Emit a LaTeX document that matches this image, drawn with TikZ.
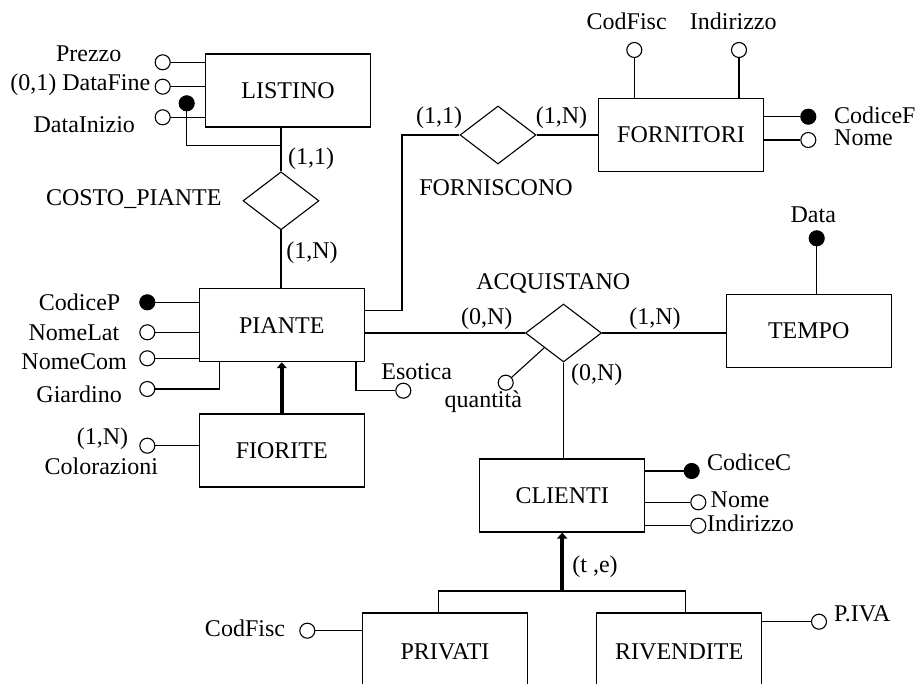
\documentclass[tikz,border=0pt]{standalone}
\usepackage{fontspec}
\setmainfont{Liberation Serif}
\usetikzlibrary{shapes.geometric,arrows.meta}
\begin{document}
\begin{tikzpicture}[x=1pt,y=-1pt,
  every node/.style={font=\fontsize{24}{26}\selectfont},
  ent/.style={draw, rectangle, minimum width=165pt, minimum height=73pt, inner sep=0pt, line width=1.1pt},
  rel/.style={draw, diamond, minimum width=76pt, minimum height=58pt, inner sep=0pt, line width=1.1pt},
  att/.style={draw, circle, minimum size=15pt, inner sep=0pt, line width=1.1pt, fill=white},
  keyatt/.style={att, fill=black},
  lab/.style={inner sep=0pt},
  conn/.style={line width=1.1pt},
  isarrow/.style={line width=3.5pt, -{Triangle[length=6pt,width=10pt]}}
]
\useasboundingbox (0,0) rectangle (918,684);
\clip (0,0) rectangle (918,684);

% entities
\node[ent] (listino) at (288,90.5) {LISTINO};
\node[ent] (piante) at (281.8,325.2) {PIANTE};
\node[ent] (fiorite) at (281.8,450.5) {FIORITE};
\node[ent] (fornitori) at (681,135) {FORNITORI};
\node[ent] (tempo) at (808.7,330.8) {TEMPO};
\node[ent] (clienti) at (562.2,495.5) {CLIENTI};
\node[ent, minimum height=78pt] (privati) at (445,652) {PRIVATI};
\node[ent, minimum height=78pt] (rivendite) at (679.2,652) {RIVENDITE};

% relationships
\node[rel] (costo) at (281,200.8) {};
\node[rel] (fornisc) at (498,135) {};
\node[rel] (acq) at (563.5,333) {};

% relationship labels and cardinalities
\node[lab] (lcosto) at (133.8,199) {COSTO\_PIANTE};
\node[lab] (c11a) at (311,159) {(1,1)};
\node[lab] (c1na) at (312,253) {(1,N)};
\node[lab] (lfornisc) at (496,188) {FORNISCONO};
\node[lab] (c11b) at (439,118) {(1,1)};
\node[lab] (c1nb) at (561.5,118) {(1,N)};
\node[lab] (lacq) at (553.3,284) {ACQUISTANO};
\node[lab] (c0na) at (486.7,318.3) {(0,N)};
\node[lab] (c1nc) at (655,318.3) {(1,N)};
\node[lab] (c0nb) at (596.7,375) {(0,N)};
\node[lab] (lte) at (595,566.7) {(t ,e)};

% relationship connectors
\draw[conn] (costo.north) -- (costo.north |- listino.south);
\draw[conn] (costo.south) -- (costo.south |- piante.north);
\coordinate (fk) at (402,310.7);
\draw[conn] (fornisc.west) -| (fk) -- (fk -| piante.east);
\draw[conn] (fornisc.east) -- (fornisc.east -| fornitori.west);
\draw[conn] (acq.west) -- (acq.west -| piante.east);
\draw[conn] (acq.east) -- (acq.east -| tempo.west);
\draw[conn] (acq.south) -- (acq.south |- clienti.north);

% LISTINO attributes
\node[att] (aprezzo) at (162.7,62.3) {};
\node[att] (adatafine) at (162.7,86.7) {};
\node[att] (adatainizio) at (162.7,117.3) {};
\node[keyatt] (klistino) at (186.7,103.3) {};
\draw[conn] (aprezzo) -- (aprezzo -| listino.west);
\draw[conn] (adatafine) -- (adatafine -| listino.west);
\draw[conn] (adatainizio) -- (adatainizio -| listino.west);
\coordinate (lk) at (281,145.7);
\draw[conn] (klistino) |- (lk);
\node[lab] (lprezzo) at (88.7,53.3) {Prezzo};
\node[lab, anchor=east] (ldatafine) at (150.5,85) {(0,1) DataFine};
\node[lab] (ldatainizio) at (84.3,125) {DataInizio};

% PIANTE attributes
\node[keyatt] (kpiante) at (147.3,302.3) {};
\node[att] (anomelat) at (147.3,332.3) {};
\node[att] (anomecom) at (147.3,358.3) {};
\node[att] (agiardino) at (147.3,389) {};
\node[att] (aesotica) at (403.3,390.7) {};
\draw[conn] (kpiante) -- (kpiante -| piante.west);
\draw[conn] (anomelat) -- (anomelat -| piante.west);
\draw[conn] (anomecom) -- (anomecom -| piante.west);
\draw[conn] (agiardino) -| ([xshift=-62.5pt]piante.south);
\draw[conn] (aesotica) -| ([xshift=74.2pt]piante.south);
\node[lab, anchor=east] (lcodicep) at (120.5,302) {CodiceP};
\node[lab, anchor=east] (lnomelat) at (119.5,332.3) {NomeLat};
\node[lab, anchor=east] (lnomecom) at (127,362) {NomeCom};
\node[lab, anchor=east] (lgiardino) at (122,394) {Giardino};
\node[lab] (lesotica) at (416.7,371.7) {Esotica};

% FIORITE
\draw[isarrow] (fiorite.north) -- (piante.south);
\node[att] (acolor) at (147.3,445.7) {};
\draw[conn] (acolor) -- (acolor -| fiorite.west);
\node[lab] (lcolorcard) at (102.5,438.3) {(1,N)};
\node[lab] (lcolor) at (101.3,466.7) {Colorazioni};

% FORNITORI attributes
\node[att] (afcodfisc) at (634.3,50) {};
\node[att] (afindir) at (739,50) {};
\node[keyatt] (kfornitori) at (808.3,116.7) {};
\node[att] (afnome) at (808.3,140) {};
\draw[conn] (afcodfisc) -- (afcodfisc |- fornitori.north);
\draw[conn] (afindir) -- (afindir |- fornitori.north);
\draw[conn] (kfornitori) -- (kfornitori -| fornitori.east);
\draw[conn] (afnome) -- (afnome -| fornitori.east);
\node[lab] (lfcodfisc) at (626.7,21.7) {CodFisc};
\node[lab] (lfindir) at (733.3,21.7) {Indirizzo};
\node[lab, anchor=west] (lcodicef) at (834,115) {CodiceF};
\node[lab, anchor=west] (lfnome) at (834,138) {Nome};

% TEMPO
\node[keyatt] (ktempo) at (816.7,238.3) {};
\draw[conn] (ktempo) -- (ktempo |- tempo.north);
\node[lab] (ldata) at (813.3,214.3) {Data};

% ACQUISTANO attribute
\node[att] (aquant) at (505.7,382.7) {};
\draw[conn] (aquant) -- (acq.south west);
\node[lab] (lquant) at (483.3,402) {quantità};

% CLIENTI attributes
\node[keyatt] (kclienti) at (691.7,471) {};
\node[att] (acnome) at (698.3,502.3) {};
\node[att] (acindir) at (698.3,525.7) {};
\draw[conn] (kclienti) -- (kclienti -| clienti.east);
\draw[conn] (acnome) -- (acnome -| clienti.east);
\draw[conn] (acindir) -- (acindir -| clienti.east);
\node[lab, anchor=west] (lcodicec) at (707,462.7) {CodiceC};
\node[lab, anchor=west] (lcnome) at (710.5,500) {Nome};
\node[lab, anchor=west] (lcindir) at (707,523.3) {Indirizzo};

% generalization
\coordinate (isa) at (562.2,591);
\draw[conn] ([xshift=-6.7pt]privati.north) |- (isa) -| ([xshift=6.5pt]rivendite.north);
\draw[isarrow] (isa) -- (isa |- clienti.south);

% PRIVATI / RIVENDITE attributes
\node[att] (apcodfisc) at (307.3,630.7) {};
\draw[conn] (apcodfisc) -- (apcodfisc -| privati.west);
\node[lab] (lpcodfisc) at (245,628.3) {CodFisc};
\node[att] (apiva) at (819,621.7) {};
\draw[conn] (apiva) -- (apiva -| rivendite.east);
\node[lab, anchor=west] (lpiva) at (834,613.3) {P.IVA};
\end{tikzpicture}
\end{document}
